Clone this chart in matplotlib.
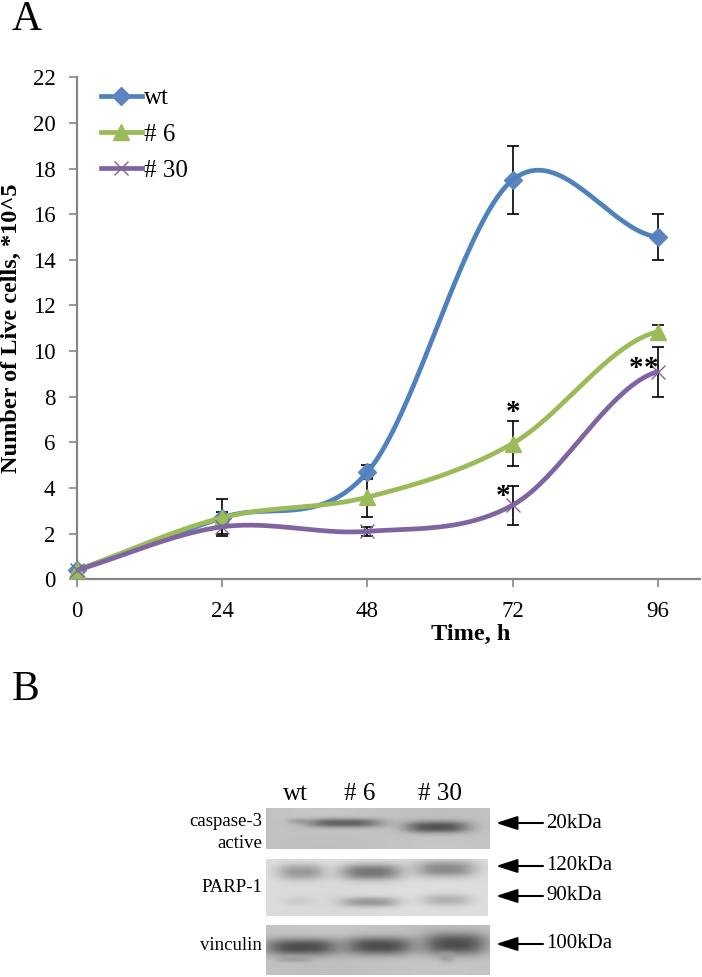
import numpy as np
import matplotlib
matplotlib.use('Agg')
import matplotlib.pyplot as plt
from matplotlib.lines import Line2D

plt.rcParams['font.family'] = ['Liberation Serif', 'DejaVu Serif']

# panel A data
hours = [0, 24, 48, 72, 96]
wt = [0.4, 2.7, 4.7, 17.5, 15.0]
wt_err = [0.1, 0.25, 0.3, 1.5, 1.0]
n6 = [0.4, 2.7, 3.6, 5.95, 10.85]
n6_err = [0.1, 0.8, 0.85, 1.0, 0.3]
n30 = [0.4, 2.3, 2.1, 3.25, 9.1]
n30_err = [0.1, 0.3, 0.2, 0.85, 1.1]

blue = '#4f81bd'
blue_m = '#5b84c0'
green = '#9bbb59'
purple = '#8064a2'
axis_grey = '#868686'

# panel B bands: x0, x1, y, half height, grey level
caspase = [(287, 307, 821, 2.5, 0.66), (306, 382, 823, 4.5, 0.38), (405, 469, 827, 6, 0.32)]
parp = [(278, 325, 872, 8, 0.60), (340, 402, 872, 8, 0.46), (416, 475, 869, 8, 0.54),
        (283, 314, 901, 4, 0.80), (341, 399, 902, 5, 0.60), (421, 472, 900, 6, 0.70)]
vinculin = [(265, 339, 947, 8.5, 0.30), (345, 414, 946, 9, 0.30), (423, 487, 944, 11, 0.30),
            (276, 312, 959, 3, 0.62), (439, 454, 957, 5, 0.62)]
arrow_ys = [823, 866, 896, 944]
arrow_labels = ['20kDa', '120kDa', '90kDa', '100kDa']


def smooth(x, y, n=40):
    # spreadsheet style smoothed line, one bezier per segment
    x = np.array(x, float)
    y = np.array(y, float)
    xs, ys = [], []
    for i in range(len(x) - 1):
        p0 = np.array([x[i], y[i]])
        p3 = np.array([x[i + 1], y[i + 1]])
        d = p3 - p0
        if i > 0:
            c1 = p0 + (p3 - np.array([x[i - 1], y[i - 1]])) / 6
        else:
            c1 = p0 + d / 3
        if i < len(x) - 2:
            c2 = p3 - (np.array([x[i + 2], y[i + 2]]) - p0) / 6
        else:
            # last segment levels off in the reference
            c2 = p3 - np.array([d[0] / 3, d[1] * 0.1])
        t = np.linspace(0, 1, n)[:, None]
        pts = (1 - t) ** 3 * p0 + 3 * (1 - t) ** 2 * t * c1 + 3 * (1 - t) * t ** 2 * c2 + t ** 3 * p3
        xs.extend(pts[:, 0])
        ys.extend(pts[:, 1])
    return xs, ys


def blot(ax, x0, x1, y0, y1, bg, bands):
    xx, yy = np.meshgrid(np.arange(x0, x1) + 0.5, np.arange(y0, y1) + 0.5)
    img = np.full(xx.shape, bg, float)
    # slow shading so the panel does not look flat
    img += 0.015 * np.sin((xx - x0) / 37.0) * np.cos((yy - y0) / 13.0)
    for bx0, bx1, by, h, g in bands:
        cx = (bx0 + bx1) / 2
        a = (bx1 - bx0) / 2
        w = np.exp(-(np.abs(xx - cx) / a) ** 3 - (np.abs(yy - by) / h) ** 2.4)
        img = img * (1 - w) + g * w
    ax.imshow(img, cmap='gray', vmin=0, vmax=1, extent=(x0, x1, y1, y0),
              aspect='auto', interpolation='bilinear', zorder=1)


fig = plt.figure(figsize=(7.02, 9.77), dpi=100)
W, H = 702.0, 977.0

# main chart
ax = fig.add_axes([77 / W, 1 - 579.3 / H, (700 - 77) / W, (579.3 - 77.3) / H])
ax.set_xlim(0, 623 / 6.05)
ax.set_ylim(0, 22)

for vals, errs in [(wt, wt_err), (n6, n6_err), (n30, n30_err)]:
    ax.errorbar(hours, vals, yerr=errs, fmt='none', ecolor='black', elinewidth=1.2,
                capsize=4.5, capthick=1.2, zorder=2, clip_on=False)

series = [(wt, blue, blue_m, 'D', 9, 'wt'), (n6, green, green, '^', 11, '# 6'), (n30, purple, purple, 'x', 10, '# 30')]
for k, (vals, col, mcol, mk, ms, name) in enumerate(series):
    xs, ys = smooth(hours, vals)
    ax.plot(hours, vals, ls='none', marker=mk, ms=ms, color=mcol, mew=1.0, zorder=3 + k * 0.1, clip_on=False)
    ax.plot(xs, ys, color=col, lw=3.4, zorder=3.05 + k * 0.1, solid_capstyle='round')

for side in ['top', 'right']:
    ax.spines[side].set_visible(False)
for side in ['left', 'bottom']:
    ax.spines[side].set_color(axis_grey)
    ax.spines[side].set_linewidth(1.6)

ax.set_xticks(hours)
ax.set_yticks(np.arange(0, 23, 2))
ax.tick_params(axis='both', colors=axis_grey, length=5.5, width=1.2, labelsize=16.5, labelcolor='black')
ax.tick_params(axis='x', pad=10)
ax.tick_params(axis='y', pad=10)

handles = [Line2D([], [], color=c, lw=3.4, marker=m, ms=s, mfc=mc, mec=mc, label=n)
           for _, c, mc, m, s, n in series]
ax.legend(handles=handles, loc='upper left', bbox_to_anchor=(6 / 623, 1.016), frameon=False,
          fontsize=18, handlelength=1.65, handletextpad=0.1, labelspacing=0.55, borderpad=0.2)

# full figure overlay in pixel coordinates for text and panel B
ov = fig.add_axes([0, 0, 1, 1], zorder=5)
ov.set_xlim(0, W)
ov.set_ylim(H, 0)
ov.axis('off')
ov.patch.set_alpha(0)

ov.text(12, 30, 'A', fontsize=30, ha='left', va='baseline')
ov.text(12, 700, 'B', fontsize=30, ha='left', va='baseline')
ov.text(11, 328, 'Number of Live cells, *10^5', fontsize=17.5, fontweight='bold',
        rotation=90, ha='center', va='center')
ov.text(471, 634, 'Time, h', fontsize=17.5, fontweight='bold', ha='center', va='center')

for sx, sy in [(513, 407), (503, 490), (636, 362), (651, 362)]:
    ov.text(sx, sy + 6, '*', fontsize=21, fontweight='bold', ha='center', va='center')

blot(ov, 266, 490, 808, 849, 0.76, caspase)
blot(ov, 266, 488, 859, 916, 0.86, parp)
blot(ov, 266, 490, 925, 975, 0.76, vinculin)
ov.set_xlim(0, W)
ov.set_ylim(H, 0)

for tx, lab in [(295, 'wt'), (360, '# 6'), (440, '# 30')]:
    ov.text(tx, 794, lab, fontsize=18, ha='center', va='center')

ov.text(262, 821, 'caspase-3', fontsize=13.5, ha='right', va='center')
ov.text(262, 843, 'active', fontsize=13.5, ha='right', va='center')
ov.text(262, 887, 'PARP-1', fontsize=13.5, ha='right', va='center')
ov.text(262, 945, 'vinculin', fontsize=13.5, ha='right', va='center')

for ay, lab in zip(arrow_ys, arrow_labels):
    ov.annotate('', xy=(496, ay), xytext=(543, ay),
                arrowprops=dict(arrowstyle='-|>,head_length=1.3,head_width=0.42', color='black',
                                lw=1.5, shrinkA=0, shrinkB=0))
    ov.text(546, ay, lab, fontsize=15, ha='left', va='center')

fig.savefig('out.png', dpi=100)
